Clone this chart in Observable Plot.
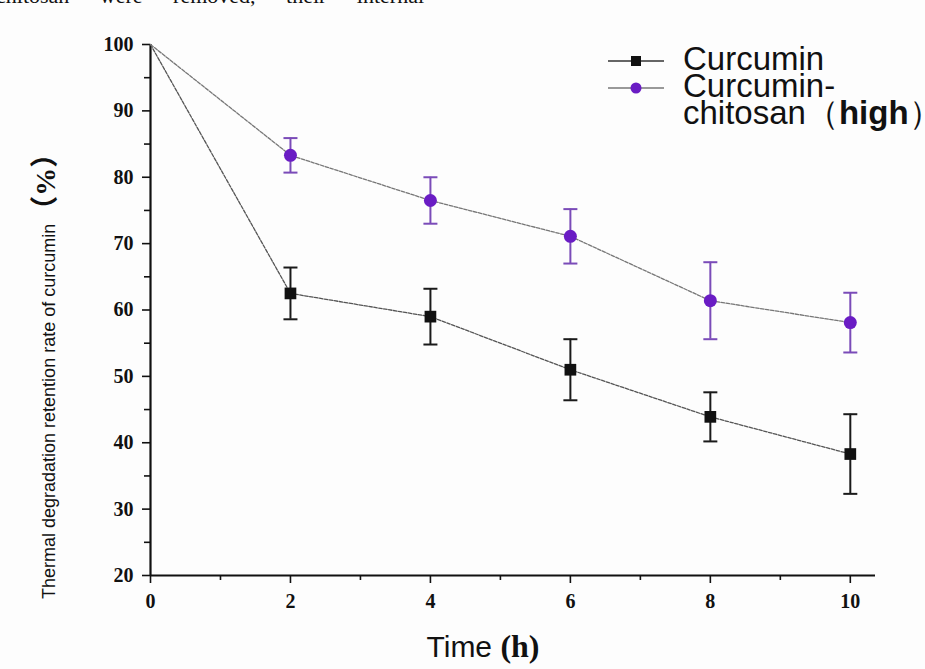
<!DOCTYPE html>
<html>
<head>
<meta charset="utf-8">
<script src="https://cdn.jsdelivr.net/npm/d3@7"></script>
<script src="https://cdn.jsdelivr.net/npm/@observablehq/plot@0.6"></script>
<style>
  body { margin: 0; background: #fff; }
  #wrap { position: relative; width: 925px; height: 669px; overflow: hidden; background: #fdfdfd; }
  #wrap svg.plot { position: absolute; left: 0; top: 0; }
  .frag { position: absolute; left: -4px; top: -17px; font: 22px "Liberation Serif", serif; color: #111; word-spacing: 25px; white-space: nowrap; }
  .legend { position: absolute; left: 606px; top: 45px; font-family: "Liberation Sans", Arial, sans-serif; font-size: 33px; color: #111; line-height: 27px; white-space: nowrap; }
  .legend .row { position: relative; height: 27px; padding-left: 77px; }
  .legend svg { position: absolute; left: 0; top: 6px; }
  .legend b { font-family: "Liberation Sans", Arial, sans-serif; font-weight: bold; }
</style>
</head>
<body>
<div id="wrap">
  <div class="frag">chitosan were removed, their internal</div>
</div>
<script>
// Sampling times (h)
const hours = [0, 2, 4, 6, 8, 10];
// Retention rate (%) and error for free curcumin
const curcumin = [100, 62.5, 59.0, 51.0, 43.9, 38.3];
const curcuminErr = [0, 3.9, 4.2, 4.6, 3.7, 6.0];
// Retention rate (%) and error for curcumin-chitosan (high)
const chitosan = [100, 83.3, 76.5, 71.1, 61.4, 58.1];
const chitosanErr = [0, 2.6, 3.5, 4.1, 5.8, 4.5];

const seriesNames = ["Curcumin", "Curcumin-chitosan (high)"];
const seriesColors = ["#111111", "#6a1cc4"];
const errColors = ["#1a1a1a", "#7a4bb8"];

const xTicks = [0, 2, 4, 6, 8, 10];
const xMinor = [1, 3, 5, 7, 9];
const yTicks = [20, 30, 40, 50, 60, 70, 80, 90, 100];
const yMinor = [25, 35, 45, 55, 65, 75, 85, 95];

const rowsA = hours.map((t, i) => ({t, v: curcumin[i], e: curcuminErr[i], s: seriesNames[0]}));
const rowsB = hours.map((t, i) => ({t, v: chitosan[i], e: chitosanErr[i], s: seriesNames[1]}));
const errA = rowsA.filter(d => d.e > 0);
const errB = rowsB.filter(d => d.e > 0);

// horizontal cap drawn as a custom symbol
const cap = { draw(ctx) { ctx.moveTo(-7, 0); ctx.lineTo(7, 0); } };

const tickFont = {fontFamily: "'Liberation Serif', 'Times New Roman', serif", fontWeight: "bold", fontSize: 20};

const plot = Plot.plot({
  width: 925,
  height: 669,
  marginLeft: 150,
  marginRight: 50,
  marginTop: 44,
  marginBottom: 94,
  x: {domain: [0, 10.36]},
  y: {domain: [20, 100]},
  style: {background: "transparent", color: "#111", overflow: "visible"},
  marks: [
    Plot.axisX(xMinor, {tickSize: 5, text: null, label: null, strokeWidth: 1.6}),
    Plot.axisX(xTicks, {tickSize: 8, tickPadding: 10, strokeWidth: 1.6, tickFormat: d => String(d), label: null, ...tickFont}),
    Plot.axisY(yMinor, {tickSize: 6, text: null, label: null, strokeWidth: 1.6}),
    Plot.axisY(yTicks, {tickSize: 8, tickPadding: 9, strokeWidth: 1.6, tickFormat: d => String(d), label: null, ...tickFont}),
    Plot.ruleY([20], {stroke: "#111", strokeWidth: 2.2}),
    Plot.ruleX([0], {stroke: "#111", strokeWidth: 2.2}),
    // connecting lines
    Plot.line(rowsA, {x: "t", y: "v", stroke: "#555", strokeWidth: 1.3, strokeDasharray: "3.5,1.5"}),
    Plot.line(rowsB, {x: "t", y: "v", stroke: "#777", strokeWidth: 1.3, strokeDasharray: "3.5,1.5"}),
    // error bars
    Plot.ruleX(errA, {x: "t", y1: d => d.v - d.e, y2: d => d.v + d.e, stroke: errColors[0], strokeWidth: 2}),
    Plot.dot(errA, {x: "t", y: d => d.v + d.e, symbol: cap, stroke: errColors[0], strokeWidth: 2}),
    Plot.dot(errA, {x: "t", y: d => d.v - d.e, symbol: cap, stroke: errColors[0], strokeWidth: 2}),
    Plot.ruleX(errB, {x: "t", y1: d => d.v - d.e, y2: d => d.v + d.e, stroke: errColors[1], strokeWidth: 2}),
    Plot.dot(errB, {x: "t", y: d => d.v + d.e, symbol: cap, stroke: errColors[1], strokeWidth: 2}),
    Plot.dot(errB, {x: "t", y: d => d.v - d.e, symbol: cap, stroke: errColors[1], strokeWidth: 2}),
    // markers
    Plot.dot(errA, {x: "t", y: "v", symbol: "square", r: 6.6, fill: seriesColors[0], stroke: "none"}),
    Plot.dot(errB, {x: "t", y: "v", symbol: "circle", r: 6.5, fill: seriesColors[1], stroke: "none"})
  ]
});
plot.classList.add("plot");
document.getElementById("wrap").appendChild(plot);

// axis titles with mixed fonts
const svg = d3.select(plot);
const yt = svg.append("text")
  .attr("transform", "translate(55,599) rotate(-90)")
  .attr("text-anchor", "start")
  .attr("fill", "#111");
yt.append("tspan")
  .attr("font-family", "'Liberation Sans', Arial, sans-serif")
  .attr("font-size", 18)
  .text("Thermal degradation retention rate of curcumin");
yt.append("tspan")
  .attr("font-family", "'Liberation Serif', 'Noto Sans CJK SC', serif")
  .attr("font-weight", "bold")
  .attr("font-size", 28)
  .text("（%）");

const xt = svg.append("text")
  .attr("x", 483).attr("y", 657)
  .attr("text-anchor", "middle")
  .attr("fill", "#111");
xt.append("tspan")
  .attr("font-family", "'Liberation Sans', Arial, sans-serif")
  .attr("font-size", 30)
  .text("Time ");
xt.append("tspan")
  .attr("font-family", "'Liberation Serif', 'Times New Roman', serif")
  .attr("font-weight", "bold")
  .attr("font-size", 32)
  .text("(h)");

// legend
const legend = document.createElement("div");
legend.className = "legend";
legend.innerHTML = `
  <div class="row"><svg width="60" height="20"><line x1="2" x2="58" y1="10" y2="10" stroke="#333" stroke-width="1.5"/><rect x="25" y="5" width="10" height="10" fill="${seriesColors[0]}"/></svg>Curcumin</div>
  <div class="row"><svg width="60" height="20"><line x1="2" x2="58" y1="10" y2="10" stroke="#777" stroke-width="1.5"/><circle cx="30" cy="10" r="5.5" fill="${seriesColors[1]}"/></svg>Curcumin-</div>
  <div class="row">chitosan（<b>high</b>）</div>`;
document.getElementById("wrap").appendChild(legend);
</script>
</body>
</html>
